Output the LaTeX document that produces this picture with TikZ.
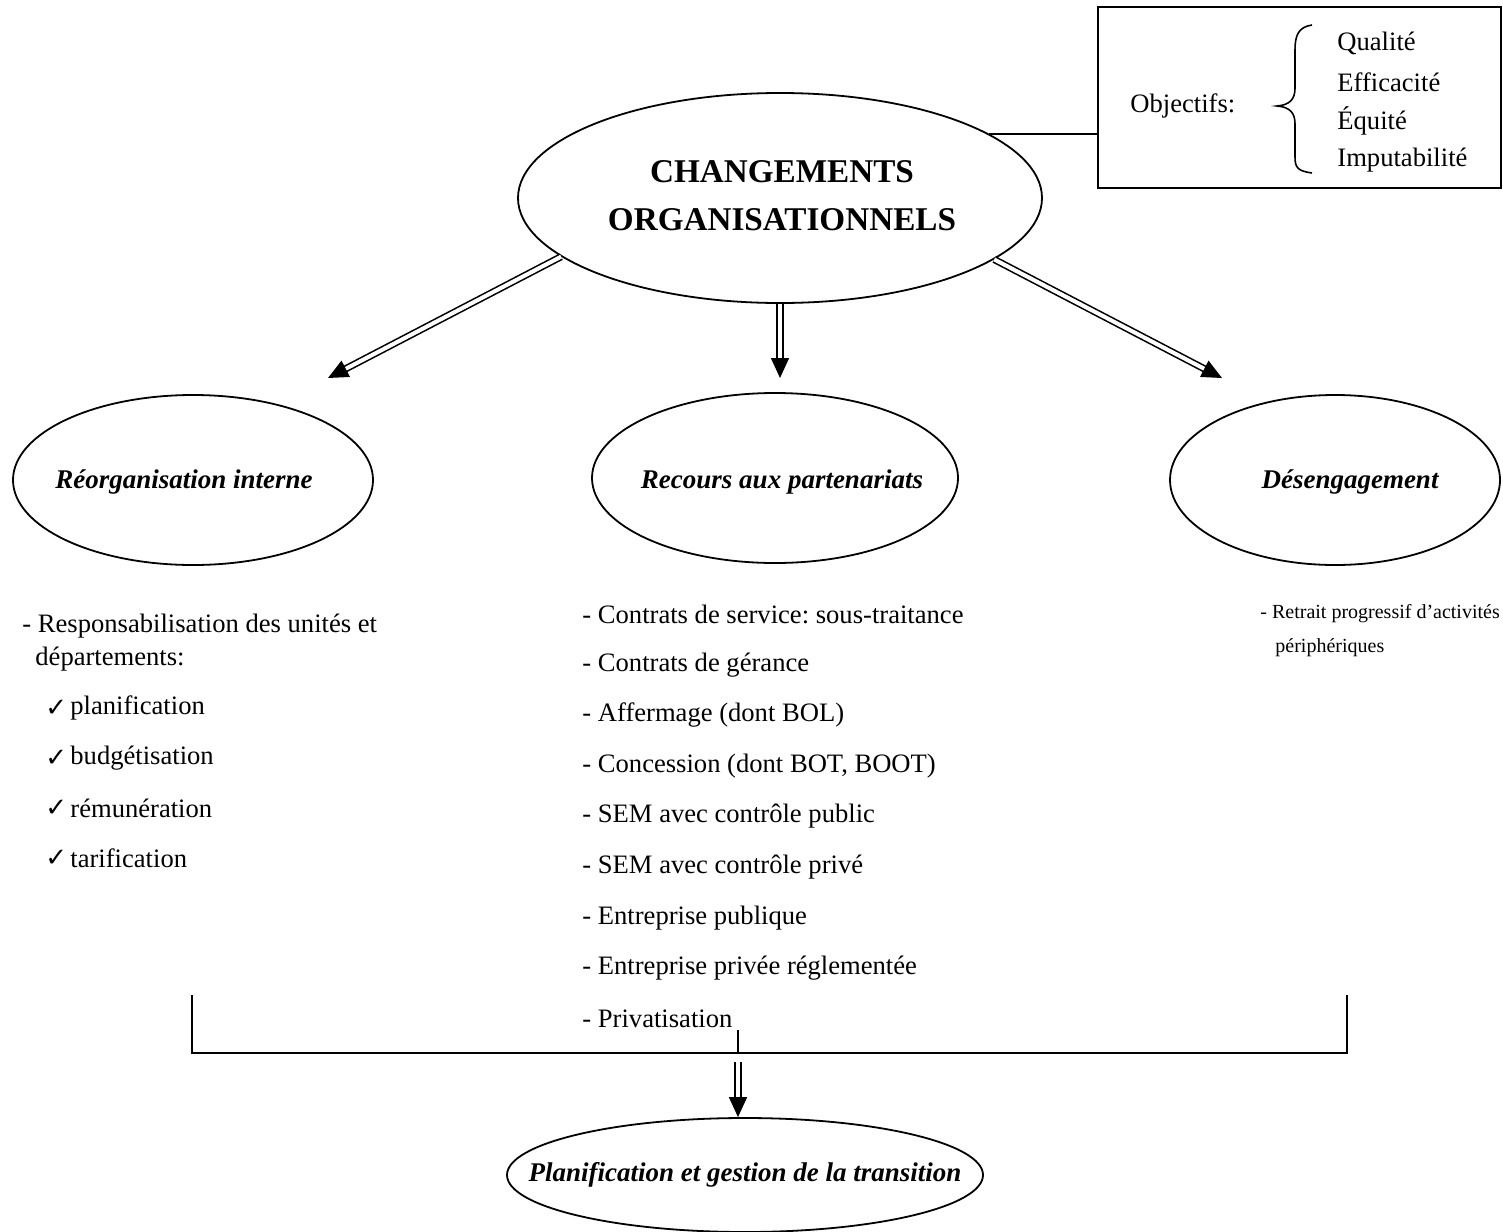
\documentclass[tikz,border=0pt]{standalone}
\usepackage{fontspec}
\setmainfont{Liberation Serif}
\newfontfamily\symfont{DejaVu Sans}
\usetikzlibrary{arrows.meta,shapes.geometric,calc}
\frenchspacing
\begin{document}
\begin{tikzpicture}[x=0.5pt,y=-0.5pt,
  oval/.style={draw, ellipse, line width=0.9pt, inner sep=0pt},
  lab/.style={inner sep=0pt, font=\fontsize{13.5}{16}\selectfont\bfseries\itshape},
  txt/.style={anchor=west, inner sep=0pt, font=\fontsize{13.3}{16}\selectfont},
  small/.style={anchor=west, inner sep=0pt, font=\fontsize{10}{12}\selectfont},
  chk/.style={anchor=west, inner sep=0pt, font=\fontsize{13}{15}\selectfont\symfont},
  dbl/.style={double, double distance=2pt, line width=0.8pt, -{Triangle[length=10pt,width=9pt]}},
  ln/.style={line width=0.8pt}]
\useasboundingbox (0,0) rectangle (1503,1231);

% main ellipse
\node[oval, minimum width=262pt, minimum height=105pt] (main) at (780,198) {};
\node[align=center, inner sep=0pt, font=\fontsize{16.6}{24}\selectfont\bfseries] (title) at (782,196) {CHANGEMENTS\\ORGANISATIONNELS};

% objectives box
\node[draw, line width=0.9pt, minimum width=201.5pt, minimum height=90.5pt, inner sep=0pt] (box) at (1299.5,97.5) {};
\draw[ln] (main.17.5) -- (main.17.5 -| box.west);
\node[txt] (obj) at (1130,106) {Objectifs:};
\draw[line width=0.8pt] (1312,25) .. controls (1298,27) and (1295,36) .. (1295,50) -- (1295,88)
   .. controls (1295,99) and (1290,105) .. (1277,106)
   .. controls (1290,107) and (1295,113) .. (1295,124) -- (1295,157)
   .. controls (1295,168) and (1298,171) .. (1312,173);
\node[txt] (q1) at (1337,43) {Qualité};
\node[txt] (q2) at (1337,82) {Efficacité};
\node[txt] (q3) at (1337,121) {Équité};
\node[txt] (q4) at (1337,160) {Imputabilité};

% second level ellipses
\node[oval, minimum width=180pt, minimum height=85pt] (reo) at (193,480) {};
\node[lab] (reoT) at (184,482) {Réorganisation interne};
\node[oval, minimum width=183pt, minimum height=85pt] (rec) at (775,478) {};
\node[lab] (recT) at (782,482) {Recours aux partenariats};
\node[oval, minimum width=165pt, minimum height=85pt] (des) at (1335,480) {};
\node[lab] (desT) at (1350,482) {Désengagement};

\coordinate (lt) at (328,378);
\coordinate (mt) at (780,378);
\coordinate (rt) at (1222,378);
\draw[dbl] (main.195.9) -- (lt);
\draw[dbl] (main.south) -- (mt);
\draw[dbl] (main.344.6) -- (rt);

% left list
\node[txt] (l1) at (22,626) {- Responsabilisation des unités et};
\node[txt] (l2) at (35,659) {départements:};
\foreach \y/\t/\n in {708/planification/a, 758/budgétisation/b, 808/rémunération/c, 858/tarification/d}{
  \node[chk] (c\n) at (45,\y) {✓};
  \node[txt] (t\n) at (70,\y) {\t};
}

% middle list
\node[txt] (m1) at (582,614) {- Contrats de service: sous-traitance};
\node[txt] (m2) at (582,665) {- Contrats de gérance};
\node[txt] (m3) at (582,715) {- Affermage (dont BOL)};
\node[txt] (m4) at (582,766) {- Concession (dont BOT, BOOT)};
\node[txt] (m5) at (582,816) {- SEM avec contrôle public};
\node[txt] (m6) at (582,867) {- SEM avec contrôle privé};
\node[txt] (m7) at (582,918) {- Entreprise publique};
\node[txt] (m8) at (582,968) {- Entreprise privée réglementée};
\node[txt] (m9) at (582,1019) {- Privatisation};

% right list
\node[small] (r1) at (1260,614) {- Retrait progressif d’activités};
\node[small] (r2) at (1275,648) {périphériques};

% bottom bracket
\coordinate (bl) at (192,995);
\coordinate (br) at (1347,995);
\coordinate (bl2) at (192,1053);
\coordinate (br2) at (1347,1053);
\coordinate (tk) at (738,1030);
\draw[ln] (bl) -- (bl2) -- (br2) -- (br);
\draw[ln] (tk) -- (tk |- bl2);

\node[oval, minimum width=238pt, minimum height=57pt] (bot) at (745,1175) {};
\node[lab] (botT) at (745,1175) {Planification et gestion de la transition};
\draw[dbl] ($(tk |- bl2)+(0,9)$) -- (tk |- bot.north);
\end{tikzpicture}
\end{document}
